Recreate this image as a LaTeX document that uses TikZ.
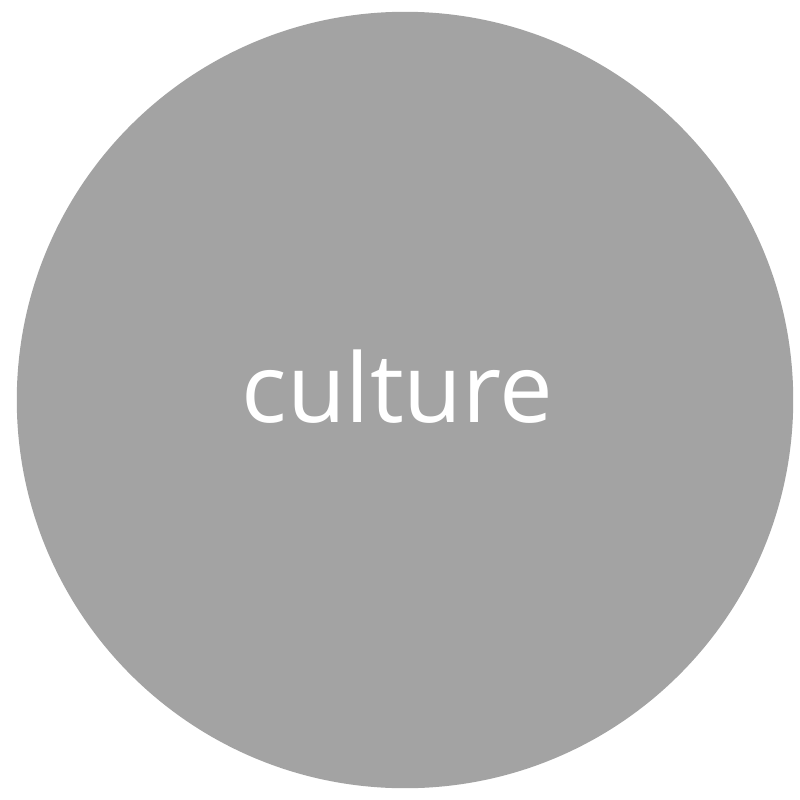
\documentclass[tikz,border=0pt]{standalone}
\usepackage{fontspec}
\setmainfont{Open Sans}
\definecolor{circgray}{HTML}{A3A3A3}
\begin{document}
\begin{tikzpicture}[x=0.01cm,y=-0.01cm,
  bubble/.style={circle,fill=circgray,draw=none,minimum size=7.76cm,inner sep=0pt},
  label/.style={text=white,font=\fontsize{27.2pt}{31pt}\selectfont,inner sep=0pt,anchor=base}]
\useasboundingbox (0,0) rectangle (800,800);
\node[bubble] (c) at (405,400) {};
\node[label] (t) at (397.5,422) {culture};
\end{tikzpicture}
\end{document}
